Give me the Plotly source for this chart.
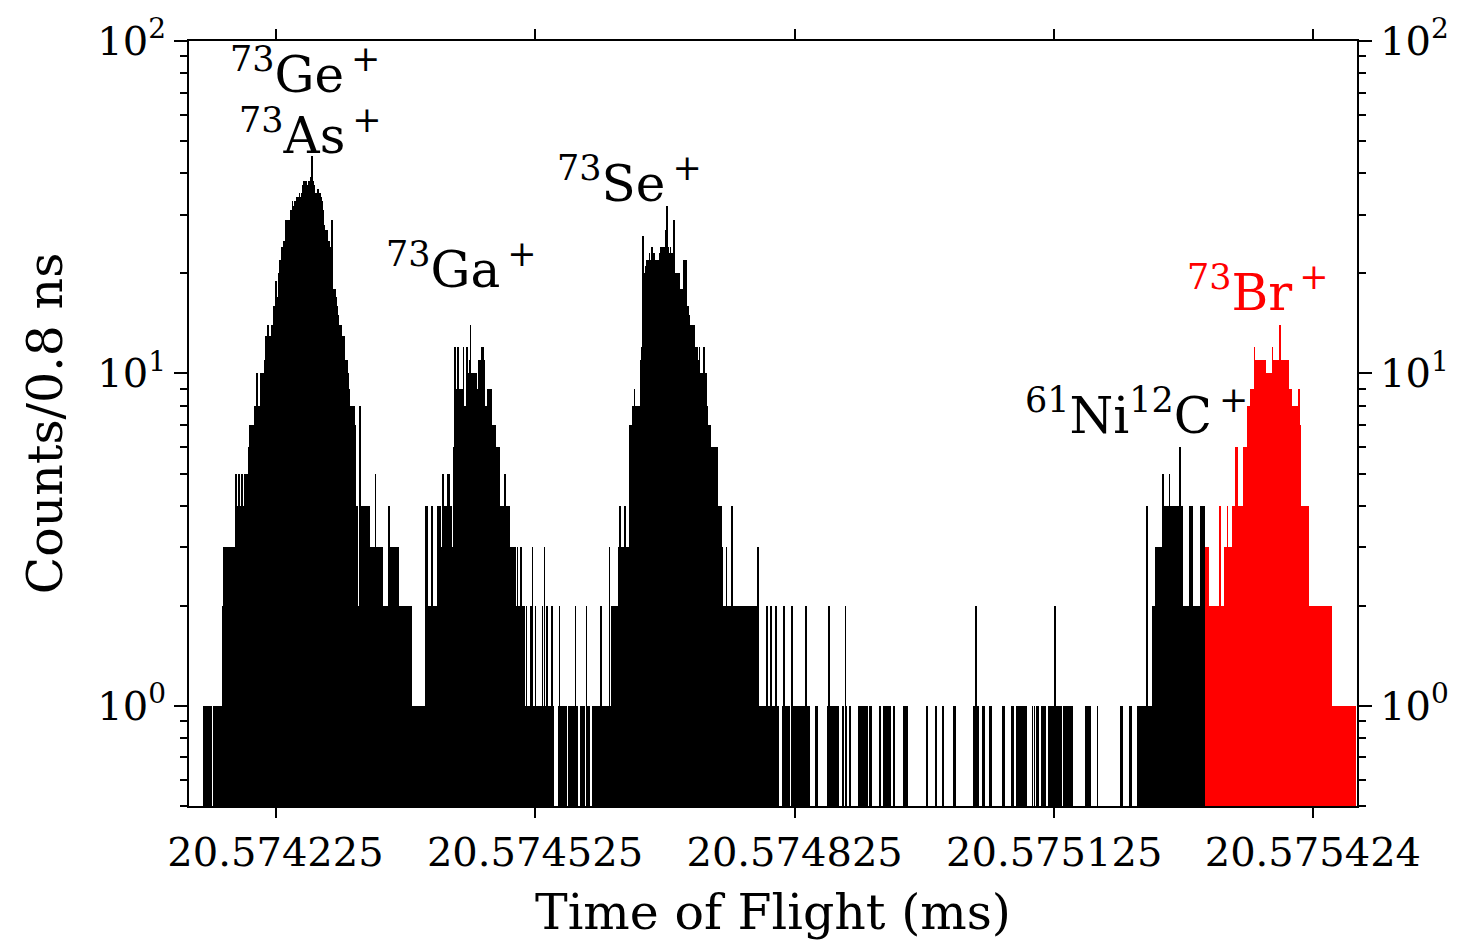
import math
import plotly.graph_objects as go

# ---------------- data ----------------
T0_MS = 20.574125      # left edge of the plotted time window (ms)
BIN_NS = 0.8           # bin width (ns)
N_BINS = 1688

x_tick_vals = [20.574225, 20.574525, 20.574825, 20.575125, 20.575424]
x_tick_text = ["20.574225", "20.574525", "20.574825", "20.575125", "20.575424"]
y_tick_vals = [1, 10, 100]
y_tick_text = ["10<sup>0</sup>", "10<sup>1</sup>", "10<sup>2</sup>"]
y_minor_vals = [0.5, 0.6, 0.7, 0.8, 0.9, 2, 3, 4, 5, 6, 7, 8, 9,
                20, 30, 40, 50, 60, 70, 80, 90]

# counts per 0.8 ns bin, each list starts at the given bin index
geas_start = 21
geas_counts = [
    1, 1, 1, 1, 1, 1, 1, 1, 1, 1, 1, 1, 0, 0,
    1, 1, 1, 1, 1, 1, 1, 1, 1, 1, 1, 1, 1, 1,
    2, 3, 3, 3, 3, 3, 2, 3, 3, 3, 3, 2, 3, 3, 3, 3, 3,
    3, 5, 3, 3, 4, 3, 5, 3,
    4, 4, 5, 4, 4, 4, 5, 4, 4, 5, 4, 4,
    6, 6, 7, 6, 6, 7, 7,
    7, 8, 8, 7, 8, 10, 8, 8, 7, 8, 8,
    10, 10, 9, 10, 10, 11,
    12, 13, 12, 13, 14, 13, 12, 13, 13, 14, 13, 13,
    16, 16, 15, 19, 16, 17, 16,
    19, 20, 22, 21, 24, 23, 24, 25, 24, 25,
    29, 28, 29, 26, 29, 28, 29,
    30, 31, 29, 33, 31, 32, 30, 33, 32, 33,
    34, 33, 34, 35, 34, 33, 34, 35,
    37, 38, 36, 38, 37, 38, 37, 31, 37,
    38, 37, 39, 38, 45, 43, 38, 37, 36,
    34, 35, 33, 34, 36, 34, 33, 35, 34, 32, 33, 31,
    29, 28, 27, 27, 26, 27,
    24, 24, 25, 23, 20, 24, 29, 23,
    18, 17, 18, 16, 17, 16, 16,
    15, 14, 14, 13, 14, 14, 13, 12, 13, 12,
    11, 11, 10, 11, 10, 10, 9,
    8, 8, 8, 7, 8, 8, 8, 7,
    5, 4, 4, 4, 2, 2, 4, 8, 4, 4,
    4, 4, 4, 3, 4, 4, 4, 2, 4, 4, 4,
    3, 3, 3, 3, 3, 3, 3, 3, 5, 3,
    3, 3, 2, 3, 3, 3, 3, 3, 3,
    2, 2, 2, 2, 2, 2, 2, 2, 4, 2,
    3, 3, 3, 2, 3, 3, 3, 3, 2, 3, 3, 3, 3, 2,
    2, 2, 2, 0, 2, 2, 2, 2, 2, 2, 2, 2, 2, 2, 2, 2, 2, 2,
    1, 1, 1, 1, 1, 1, 1, 1, 1, 1, 1, 1, 1, 1, 1, 1, 1, 1,
]

ga_start = 340
ga_counts = [
    1, 4, 4, 4, 1, 0,
    2, 2, 2, 2, 2, 4, 2, 2, 2, 2, 2, 2, 2, 4,
    3, 3, 4, 3, 3, 3,
    5, 3, 3, 4, 3, 4, 4, 3, 5, 5, 3, 4, 4,
    3, 3, 3, 6, 7,
    12, 7, 7, 9, 12, 9, 9,
    9, 9, 8, 9,
    8, 12, 8, 8, 8, 8, 12,
    10, 10, 10, 11, 14, 10,
    10, 10, 10, 9, 10, 10, 10,
    9, 9, 9, 11,
    11, 11, 11, 11, 12, 11, 12, 11,
    8, 8, 8, 8,
    9, 9, 9, 9, 7, 9,
    7, 7, 7, 7, 7,
    7, 6, 6, 6, 6, 6, 6,
    4, 4, 4, 4, 4, 4, 4, 5, 4, 4, 4,
    3, 3, 4, 3, 3, 3, 3,
    3, 3, 3, 2, 3, 2, 2, 3, 2, 2, 2, 2, 3, 2, 2, 2, 2, 2,
    1, 1, 2, 1, 1, 1, 1, 1, 1, 2, 1, 3, 1, 1, 1, 2, 1, 1, 1, 1,
    1, 1, 1, 1, 1, 2, 1, 1, 3, 1, 1, 1, 2, 1, 1, 1, 1, 1, 1, 2,
    1, 1, 0, 0, 0, 0, 0, 0, 0, 1, 2, 1, 1, 1, 1, 1, 1, 1, 1, 1,
    0, 0, 0, 1, 1, 1, 1, 1, 1, 1, 1, 1, 1, 2, 1, 1, 1, 0, 0,
]

se_start = 564
se_counts = [
    0, 1, 1, 1, 1, 1, 1, 0, 0, 0,
    2, 1, 1, 1, 0, 0, 0, 0, 0,
    1, 1, 1, 1, 1, 1, 1, 1, 1, 1, 1, 1, 2,
    1, 1, 1, 1, 1, 1, 1, 1, 1, 1, 1, 3, 1, 1, 1,
    2, 2, 2, 2, 2, 2, 2, 2, 2, 2,
    3, 4, 3, 3, 3, 3, 3, 3, 4, 3, 3, 3, 3, 3, 3,
    5, 7, 7, 7, 7,
    8, 8, 9, 8, 8, 8, 8, 8, 8, 8, 8,
    11, 11, 12,
    26, 20, 20, 18, 20, 21,
    22, 22, 21, 22, 23, 22, 22,
    24, 23, 22, 23,
    21, 22, 20, 21, 22, 21, 22, 22,
    23, 24, 24, 23, 24, 24, 23, 24, 27, 24,
    32,
    23, 24, 22, 23, 24, 22, 23, 22, 23, 29,
    20, 20, 19, 20, 20, 20, 20,
    18, 18, 18, 17, 18, 18, 18, 22,
    16, 15, 22, 16, 14, 16, 15,
    14, 14, 13, 14, 14, 13, 14,
    12, 12, 9, 12, 12, 11, 9, 12,
    10, 10, 10, 10, 10, 10, 12, 10, 10,
    9, 8, 7, 7, 7, 7, 7, 6,
    6, 6, 6, 6, 6, 6, 6, 6,
    4, 4, 4, 4, 4, 4,
    2, 3, 2, 2, 2, 2, 2, 3, 2, 2, 2, 2, 2, 2, 2, 4,
    2, 2, 2, 2, 2, 2, 2, 2, 2, 2, 2, 2, 2, 2,
    2, 2, 2, 2, 2, 2, 2, 2, 2, 2, 2, 2, 2, 2,
    2, 1, 2, 2, 1, 2, 1, 2, 2, 3,
    1, 1, 1, 1, 1, 1, 1, 1, 1, 1, 1, 1, 2, 1, 1, 1, 1, 2,
    1, 1, 1, 1, 1, 1, 1, 2, 1, 1, 1,
    0, 0, 0, 0, 0,
    1, 1, 2, 1, 1, 1, 1, 1, 1, 1, 1,
    0, 0, 0,
    2, 1, 1, 1, 1, 1,
    0,
    1, 1, 1, 1, 1, 1, 1, 1, 1, 1, 1, 1, 1, 2, 1, 1, 1, 1, 1,
]

# isolated background bins between the peaks
bg_single = [905, 906, 907, 922, 923, 925, 926, 927, 928, 931, 932, 934, 936, 937,
             944, 945, 949, 954, 955,
             967, 968, 969, 971, 972, 973, 975, 976, 977, 979, 980, 983, 984, 985,
             997, 998, 1004, 1005, 1008, 1011, 1012, 1018, 1033, 1034, 1037,
             1065, 1066, 1078, 1079, 1088, 1089, 1105, 1106, 1133, 1134, 1138, 1139,
             1146, 1147, 1149, 1156, 1158, 1176, 1177, 1188, 1190,
             1195, 1196, 1197, 1199, 1200, 1202, 1203, 1204, 1206, 1208, 1209,
             1218, 1221, 1225, 1226, 1231, 1232, 1234, 1236,
             1242, 1244, 1245, 1247, 1248, 1252, 1254, 1255, 1257, 1259,
             1264, 1265, 1267, 1268, 1270, 1271, 1273, 1275, 1276,
             1295, 1297, 1298, 1300, 1302, 1312, 1346, 1347, 1359, 1360]
bg_double = [924, 948, 1137, 1251]

nic_start = 1371
nic_counts = [
    1, 1, 1, 0, 1, 1, 1, 1, 1, 1, 1, 1,
    1, 4, 1,
    1, 1, 1, 1, 1, 1, 2, 2, 1, 2, 2, 3,
    2, 3, 3,
    3, 3, 3, 3, 3, 3, 5,
    3, 3, 4, 3, 4, 4, 4, 4, 5, 4,
    4, 4, 4, 4, 3, 4, 4, 4, 4, 4, 4, 4, 4, 6,
    2, 4, 4, 2, 2,
    2, 2, 2, 2, 2, 2, 2, 2, 4, 4,
    4, 4, 4, 2, 2, 2,
    2, 2, 2, 2, 2, 2, 2, 2, 4,
    4, 4, 4, 4, 4, 2,
]

br_start = 1468   # first bin of the 73Br+ (red) peak
br_counts = [
    3, 3, 3, 3, 3,
    2, 2, 2, 2, 2, 2, 2, 2, 2, 2, 2, 2, 2, 2, 2, 2,
    4,
    2, 2, 2, 2, 2, 2,
    3, 3, 3, 3, 4, 3, 3, 3, 3, 3, 3, 4, 4,
    4, 4, 4, 6, 6, 6, 4, 4, 4, 4, 4, 4, 4, 4,
    6, 6, 6, 6, 6, 6, 6, 8, 8, 8,
    8, 9, 9, 8, 9, 9, 12, 9,
    11, 10, 11, 11, 10, 8, 11, 10, 11, 11, 10, 11, 10, 11,
    10, 10, 10, 10, 10, 10, 10, 10, 10, 10, 12, 10,
    11, 11, 11, 11, 11, 11, 11, 11, 11, 14,
    11, 11, 11, 11, 11, 11, 11, 11, 11, 11, 11,
    9, 9, 9, 9, 9,
    8, 8, 7, 8, 8, 8, 8, 8, 8, 8, 9, 8, 7,
    4, 4, 4, 4, 4, 4, 4, 4, 4, 4, 4,
    2, 2, 1, 2, 2, 2, 2, 2, 2, 2, 2, 2, 2, 2, 2, 1, 2,
    2, 2, 1, 2, 2, 2, 0, 2, 2, 2, 2, 2, 2, 2, 2, 2,
    1, 1, 1, 1, 1, 1, 1, 1, 1, 1, 1, 1, 1, 0,
    1, 1, 1, 1, 1, 1, 1, 1, 1, 1, 1, 1, 1, 1, 1, 1, 1, 1, 0, 1, 1,
]

SP = "\u2009"
labels = [
    # text, x (ms), y (paper), colour
    ("<sup>73</sup>Ge<sup>" + SP + "+</sup>", 20.5742585, 0.960, "black"),
    ("<sup>73</sup>As<sup>" + SP + "+</sup>", 20.5742654, 0.880, "black"),
    ("<sup>73</sup>Ga<sup>" + SP + "+</sup>", 20.5744397, 0.705, "black"),
    ("<sup>73</sup>Se<sup>" + SP + "+</sup>", 20.5746336, 0.8175, "black"),
    ("<sup>61</sup>Ni<sup>12</sup>C<sup>" + SP + "+</sup>", 20.5752198, 0.515, "black"),
    ("<sup>73</sup>Br<sup>" + SP + "+</sup>", 20.5753606, 0.675, "red"),
]

# ---------------- assemble histogram ----------------
counts = [0] * N_BINS


def put(start, vals):
    for k, v in enumerate(vals):
        counts[start + k] = v


put(geas_start, geas_counts)
put(ga_start, ga_counts)
put(se_start, se_counts)
for b in bg_single:
    counts[b] = 1
for b in bg_double:
    counts[b] = 2
put(nic_start, nic_counts)
put(br_start, br_counts)

width_ms = BIN_NS * 1e-6


def centre(i):
    return T0_MS + (i + 0.5) * width_ms


blk_x = [centre(i) for i in range(br_start) if counts[i] > 0]
blk_y = [counts[i] for i in range(br_start) if counts[i] > 0]
red_x = [centre(i) for i in range(br_start, N_BINS) if counts[i] > 0]
red_y = [counts[i] for i in range(br_start, N_BINS) if counts[i] > 0]

FONT = "DejaVu Serif"

fig = go.Figure()
fig.add_trace(go.Bar(x=blk_x, y=blk_y, width=width_ms,
                     marker=dict(color="#000000", line=dict(width=0)),
                     showlegend=False, hoverinfo="skip"))
fig.add_trace(go.Bar(x=red_x, y=red_y, width=width_ms,
                     marker=dict(color="#ff0000", line=dict(width=0)),
                     showlegend=False, hoverinfo="skip"))
# carrier for the right-hand mirrored axis
fig.add_trace(go.Scatter(x=[T0_MS], y=[1], yaxis="y2", mode="markers",
                         marker=dict(opacity=0), showlegend=False,
                         hoverinfo="skip"))

yax = dict(
    type="log", range=[math.log10(0.5), 2],
    tickmode="array", tickvals=y_tick_vals, ticktext=y_tick_text,
    ticks="outside", ticklen=13, tickwidth=2, tickcolor="black",
    minor=dict(tickmode="array", tickvals=y_minor_vals, ticks="outside",
               ticklen=7, tickwidth=1.6, tickcolor="black", showgrid=False),
    showline=True, linewidth=2, linecolor="black",
    showgrid=False, zeroline=False,
    tickfont=dict(family=FONT, size=40, color="black"),
)

fig.update_layout(
    width=1461, height=943,
    margin=dict(l=189, r=102, t=33, b=137),
    paper_bgcolor="white", plot_bgcolor="white",
    bargap=0, barmode="overlay",
    xaxis=dict(
        range=[T0_MS, T0_MS + (N_BINS - 0.5) * width_ms],
        tickmode="array", tickvals=x_tick_vals, ticktext=x_tick_text,
        ticks="outside", ticklen=10, tickwidth=2, tickcolor="black",
        showline=True, linewidth=2, linecolor="black", mirror="ticks",
        showgrid=False, zeroline=False,
        tickfont=dict(family=FONT, size=40, color="black"),
        title=dict(text="Time of Flight (ms)", standoff=21,
                   font=dict(family=FONT, size=49, color="black")),
    ),
    yaxis=dict(**yax, side="left",
               title=dict(text="Counts/0.8 ns", standoff=19,
                          font=dict(family=FONT, size=49, color="black"))),
    yaxis2=dict(**yax, side="right", overlaying="y"),
)

for text, xv, yv, col in labels:
    fig.add_annotation(text=text, x=xv, y=yv, xref="x", yref="paper",
                       xanchor="center", yanchor="middle", showarrow=False,
                       font=dict(family=FONT, size=50, color=col))

fig.write_html("out.html")
